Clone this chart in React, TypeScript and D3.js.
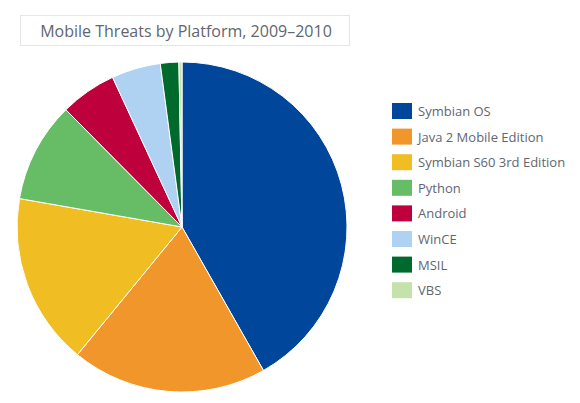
import { useRef, useEffect } from "react";
import * as d3 from "d3";

const platforms = [
    "Symbian OS",
    "Java 2 Mobile Edition",
    "Symbian S60 3rd Edition",
    "Python",
    "Android",
    "WinCE",
    "MSIL",
    "VBS",
];
const shares = [41.7, 19.1, 16.8, 9.8, 5.5, 4.8, 1.8, 0.3];
const colors = ["#00469a", "#f0962a", "#f0be23", "#66bd66", "#be003c", "#b0d2f2", "#006a2d", "#c6e2ab"];
const title = "Mobile Threats by Platform, 2009\u20132010";

export default function App() {
    const ref = useRef<SVGSVGElement>(null);

    useEffect(() => {
        if (!ref.current) return;
        const width = 580;
        const height = 403;
        const cx = 182;
        const cy = 227;
        const radius = 165;
        const textColor = "#5f6670";
        const font = "'Open Sans', sans-serif";

        const svg = d3.select(ref.current);
        svg.selectAll("*").remove();
        svg.attr("width", width).attr("height", height);

        // Title box
        svg.append("rect")
            .attr("x", 20.5)
            .attr("y", 15.5)
            .attr("width", 329)
            .attr("height", 30)
            .attr("fill", "#fff")
            .attr("stroke", "#e6e6e6");
        svg.append("text")
            .attr("x", 186)
            .attr("y", 37)
            .attr("text-anchor", "middle")
            .attr("font-family", font)
            .attr("font-size", 16)
            .attr("fill", textColor)
            .text(title);

        // Pie
        const data = platforms.map((p, i) => ({ name: p, value: shares[i], color: colors[i] }));
        const pie = d3.pie<typeof data[0]>().value((d) => d.value).sort(null);
        const arc = d3.arc<d3.PieArcDatum<typeof data[0]>>().innerRadius(0).outerRadius(radius);

        svg.append("g")
            .attr("transform", `translate(${cx},${cy})`)
            .selectAll("path")
            .data(pie(data))
            .join("path")
            .attr("d", arc)
            .attr("fill", (d) => d.data.color)
            .attr("stroke", "#fff")
            .attr("stroke-width", 1);

        // Legend
        const legend = svg.append("g").attr("transform", "translate(392,103)");
        const row = legend.selectAll("g")
            .data(data)
            .join("g")
            .attr("transform", (_, i) => `translate(0,${i * 25.6})`);
        row.append("rect")
            .attr("width", 20)
            .attr("height", 16)
            .attr("fill", (d) => d.color);
        row.append("text")
            .attr("x", 26)
            .attr("y", 13)
            .attr("font-family", font)
            .attr("font-size", 13)
            .attr("fill", textColor)
            .text((d) => d.name);
    }, []);

    return <svg ref={ref} style={{ position: "absolute", left: 0, top: 0 }}></svg>;
}
